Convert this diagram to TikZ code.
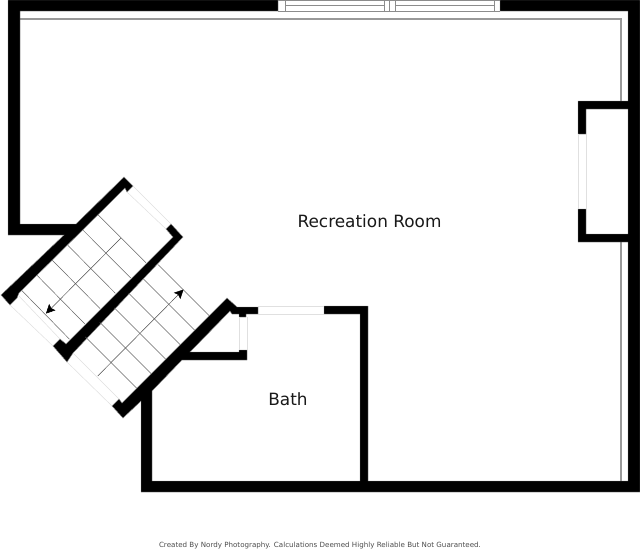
\documentclass[tikz,border=0pt]{standalone}
\usepackage{fontspec}
\setmainfont{DejaVu Sans}
\usetikzlibrary{arrows.meta}
\tikzset{
  wall/.style={fill=black, draw=black!45, line width=0.4pt, line join=miter},
  pane/.style={draw=black!45, line width=0.7pt},
  trim/.style={draw=black!40, line width=1.6pt},
  opening/.style={draw=black!12, line width=0.5pt},
  tread/.style={draw=black!60, line width=0.5pt},
  travel/.style={draw=black!70, line width=0.5pt, -{Stealth[length=9pt,width=9pt,inset=1.5pt,color=black]}},
  roomlabel/.style={font=\fontsize{16.9}{20}\selectfont, text=black!90, inner sep=0pt},
  footer/.style={font=\fontsize{7.12}{8}\selectfont, text=black!70, inner sep=0pt}
}
\begin{document}
\begin{tikzpicture}[x=1pt,y=-1pt]
   \useasboundingbox (0,0) rectangle (640,550);
   \fill[white] (0,0) rectangle (640,550);
   % trim line inside the walls
   \draw[trim] (20,19) -- (621,19) -- (621,101);
   \draw[trim] (621,242) -- (621,481);
   % walls
   \draw[wall] (8,0) -- (278,0) -- (278,11) -- (20,11) -- (20,224) -- (76,224) -- (124,177) -- (133,186) -- (127,192) -- (125,188) -- (19,293) -- (17,298) -- (10,305) -- (1,295) -- (64,235) -- (8,235) -- cycle;
   \draw[wall] (171,224) -- (183,237) -- (73,353) -- (67,362) -- (53,346) -- (60,339) -- (66,344) -- (173,237) -- (166,229) -- cycle;
   \draw[wall] (500,0) -- (640,0) -- (640,492) -- (141,492) -- (141,401) -- (123,418) -- (112,406) -- (119,399) -- (122,403) -- (227,298) -- (237,307) -- (258,307) -- (258,314) -- (246,314) -- (246,317) -- (239,317) -- (239,314) -- (232,314) -- (230,311) -- (190,352) -- (239,352) -- (239,350) -- (247,350) -- (247,360) -- (182,360) -- (152,391) -- (152,481) -- (360,481) -- (360,314) -- (324,314) -- (324,306) -- (368,306) -- (368,481) -- (628,481) -- (628,242) -- (578,242) -- (578,209) -- (586,209) -- (586,234) -- (628,234) -- (628,109) -- (586,109) -- (586,134) -- (578,134) -- (578,101) -- (628,101) -- (628,11) -- (500,11) -- cycle;
   % top window
   \draw[pane] (278,0.5) -- (500,0.5);
   \draw[pane] (278,11.5) -- (500,11.5);
   \foreach \x in {285,384,389,395,494}
      \draw[pane] (\x,0.5) -- (\x,11.5);
   \draw[pane] (285,5.5) -- (384,5.5);
   \draw[pane] (395,5.5) -- (494,5.5);
   % openings
   \draw[opening] (578,134) -- (578,209);
   \draw[opening] (586,134) -- (586,209);
   \draw[opening] (258,306) -- (324,306);
   \draw[opening] (258,314) -- (324,314);
   \draw[opening] (239,317) -- (239,350);
   \draw[opening] (247,317) -- (247,350);
   \draw[opening] (133,186) -- (171,224);
   \draw[opening] (127,192) -- (166,229);
   \draw[opening] (10,305) -- (53,346);
   \draw[opening] (18,295) -- (60,339);
   \draw[opening] (67,362) -- (112,406);
   \draw[opening] (73,353) -- (119,399);
   % treads
   \foreach \i in {0,...,5} {
      \draw[tread] (98.3-15.3*\i,215+15.1*\i) -- (146-15.3*\i,262.7+15.3*\i);
      \draw[tread] (157.7-14.5*\i,264.3+14.5*\i) -- (209.3-14.5*\i,315.7+14.5*\i);
   }
   % walking direction
   \coordinate (downstart) at (120.7,238.3);
   \coordinate (downend) at (46,313.5);
   \coordinate (upstart) at (97.7,376);
   \coordinate (upend) at (183.5,289.5);
   \draw[travel] (downstart) -- (downend);
   \draw[travel] (upstart) -- (upend);
   % labels
   \node[roomlabel] (recroom) at (369.5,221) {Recreation Room};
   \node[roomlabel] (bath) at (288,399) {Bath};
   \node[footer] (credit) at (320,546) {Created By Nordy Photography. Calculations Deemed Highly Reliable But Not Guaranteed.};
\end{tikzpicture}
\end{document}
